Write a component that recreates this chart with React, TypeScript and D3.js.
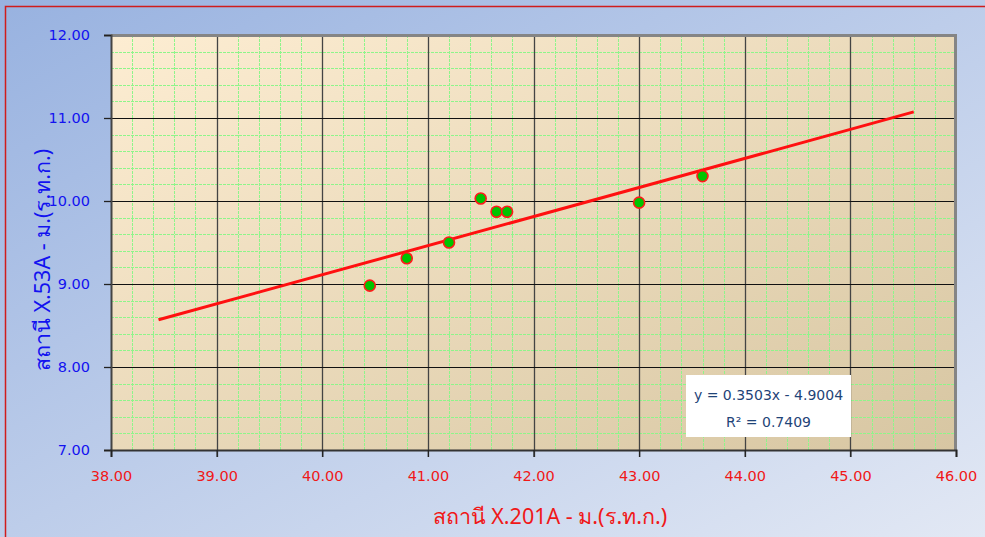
import React, { useRef, useEffect } from 'react';
import * as d3 from 'd3';

// station readings (m. MSL)
const xValues = [40.45, 40.8, 41.2, 41.5, 41.65, 41.75, 43.0, 43.6];
const yValues = [8.98, 9.31, 9.5, 10.03, 9.87, 9.87, 9.98, 10.3];
const xTicks = [38, 39, 40, 41, 42, 43, 44, 45, 46];
const yTicks = [7, 8, 9, 10, 11, 12];
const trendSlope = 0.3503;
const trendIntercept = -4.9004;
const trendRange = [38.45, 45.6];
const equationLines = ['y = 0.3503x - 4.9004', 'R² = 0.7409'];
const xTitle = 'สถานี X.201A - ม.(ร.ท.ก.)';
const yTitle = 'สถานี X.53A - ม.(ร.ท.ก.)';

const W = 985;
const H = 537;
const FONT = '"DejaVu Sans", sans-serif';

const App = () => {
  const ref = useRef<SVGSVGElement>(null);

  useEffect(() => {
    const svg = d3.select(ref.current);
    svg.selectAll('*').remove();

    const margin = { top: 35, right: 29, bottom: 87, left: 111 };

    const x = d3.scaleLinear().domain([38, 46]).range([margin.left, W - margin.right]);
    const y = d3.scaleLinear().domain([7, 12]).range([H - margin.bottom, margin.top]);

    const defs = svg.append('defs');
    const bg = defs.append('linearGradient').attr('id', 'bgGrad')
      .attr('x1', '0%').attr('y1', '0%').attr('x2', '100%').attr('y2', '100%');
    bg.append('stop').attr('offset', '0%').attr('stop-color', '#98b2e0');
    bg.append('stop').attr('offset', '100%').attr('stop-color', '#e2e8f4');

    const pg = defs.append('linearGradient').attr('id', 'plotGrad')
      .attr('x1', '0%').attr('y1', '0%').attr('x2', '100%').attr('y2', '100%');
    pg.append('stop').attr('offset', '0%').attr('stop-color', '#fdedd2');
    pg.append('stop').attr('offset', '100%').attr('stop-color', '#d7c6a2');

    // chart background + red frame
    svg.append('rect').attr('width', W).attr('height', H).attr('fill', 'url(#bgGrad)');
    svg.append('rect')
      .attr('x', 5.5).attr('y', 6.5).attr('width', W + 20).attr('height', H + 20)
      .attr('fill', 'none').attr('stroke', '#d01c1c').attr('stroke-width', 1.5);

    const [x0, x1] = x.range();
    const [y0, y1] = y.range();

    svg.append('rect')
      .attr('x', x0).attr('y', y1).attr('width', x1 - x0).attr('height', y0 - y1)
      .attr('fill', 'url(#plotGrad)');

    // minor grid
    const minorX = d3.range(38, 46.001, 0.2).filter(v => Math.abs(v - Math.round(v)) > 0.01);
    const minorY = d3.range(7, 12.001, 0.2).filter(v => Math.abs(v - Math.round(v)) > 0.01);
    const minor = svg.append('g').attr('stroke', '#8ef58a').attr('stroke-width', 1)
      .attr('stroke-dasharray', '3,1');
    minor.selectAll('.mx').data(minorX).enter().append('line')
      .attr('x1', d => Math.round(x(d)) + 0.5).attr('x2', d => Math.round(x(d)) + 0.5)
      .attr('y1', y1).attr('y2', y0);
    minor.selectAll('.my').data(minorY).enter().append('line')
      .attr('y1', d => Math.round(y(d)) + 0.5).attr('y2', d => Math.round(y(d)) + 0.5)
      .attr('x1', x0).attr('x2', x1);

    // major grid
    const major = svg.append('g');
    major.selectAll('.vx').data(xTicks.slice(1, -1)).enter().append('line')
      .attr('x1', d => Math.round(x(d)) + 0.5).attr('x2', d => Math.round(x(d)) + 0.5)
      .attr('y1', y1).attr('y2', y0 + 7)
      .attr('stroke', '#444').attr('stroke-width', 1.3);
    major.selectAll('.hy').data(yTicks.slice(1, -1)).enter().append('line')
      .attr('y1', d => Math.round(y(d)) + 0.5).attr('y2', d => Math.round(y(d)) + 0.5)
      .attr('x1', x0 - 7).attr('x2', x1)
      .attr('stroke', '#111').attr('stroke-width', 1.2);

    // plot frame: gray top/right, dark axes
    svg.append('path')
      .attr('d', `M${x0},${y1 + 0.5}H${x1 - 0.5}V${y0}`)
      .attr('fill', 'none').attr('stroke', '#858585').attr('stroke-width', 3);

    const yAxis = svg.append('g')
      .attr('transform', `translate(${x0},0)`)
      .call(d3.axisLeft(y).tickValues(yTicks).tickFormat(d3.format('.2f')).tickSize(7).tickPadding(14));
    yAxis.select('.domain').attr('stroke', '#444').attr('stroke-width', 2);
    yAxis.selectAll('line').attr('stroke', '#222').attr('stroke-width', 1.3);
    yAxis.selectAll('text').attr('fill', '#1212f0').attr('font-family', FONT).attr('font-size', 14.5);

    const xAxis = svg.append('g')
      .attr('transform', `translate(0,${y0})`)
      .call(d3.axisBottom(x).tickValues(xTicks).tickFormat(d3.format('.2f')).tickSize(7).tickPadding(14));
    xAxis.select('.domain').attr('stroke', '#333').attr('stroke-width', 2);
    xAxis.selectAll('line').attr('stroke', '#222').attr('stroke-width', 1.3);
    xAxis.selectAll('text').attr('fill', '#f01818').attr('font-family', FONT).attr('font-size', 14.5);

    // trendline
    const line = d3.line<number>()
      .x(d => x(d))
      .y(d => y(trendSlope * d + trendIntercept));
    svg.append('path')
      .datum(trendRange)
      .attr('fill', 'none')
      .attr('stroke', '#ff1010')
      .attr('stroke-width', 3)
      .attr('d', line);

    // points
    svg.append('g').selectAll('circle')
      .data(xValues)
      .enter()
      .append('circle')
      .attr('cx', d => x(d))
      .attr('cy', (d, i) => y(yValues[i]))
      .attr('r', 5.5)
      .attr('fill', '#00c400')
      .attr('stroke', '#ff1a1a')
      .attr('stroke-width', 1.6);

    // equation box
    const bx = 686, by = 375, bw = 165, bh = 62;
    svg.append('rect').attr('x', bx).attr('y', by).attr('width', bw).attr('height', bh).attr('fill', '#fff');
    svg.append('g').selectAll('text')
      .data(equationLines)
      .enter()
      .append('text')
      .attr('x', bx + bw / 2)
      .attr('y', (d, i) => by + 25 + i * 27)
      .attr('text-anchor', 'middle')
      .attr('fill', '#1f4478')
      .attr('font-family', FONT)
      .attr('font-size', 14)
      .text(d => d);

    // axis titles
    svg.append('text')
      .attr('x', 550).attr('y', 524)
      .attr('text-anchor', 'middle')
      .attr('fill', '#f01818')
      .attr('font-family', '"Noto Sans", sans-serif')
      .attr('font-size', 21.5)
      .text(xTitle);

    svg.append('text')
      .attr('transform', 'translate(50,260) rotate(-90)')
      .attr('text-anchor', 'middle')
      .attr('fill', '#1212f0')
      .attr('font-family', '"Noto Sans", sans-serif')
      .attr('font-size', 21.5)
      .text(yTitle);
  }, []);

  return (
    <svg ref={ref} width={W} height={H} style={{ position: 'absolute', left: 0, top: 0 }}></svg>
  );
};

export default App;
